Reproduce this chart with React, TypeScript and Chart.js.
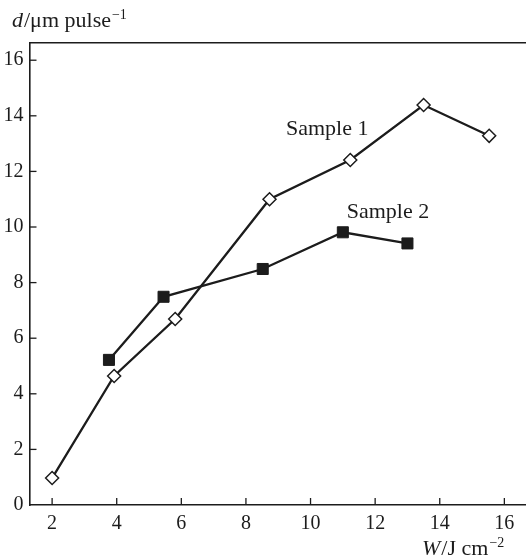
import React, { useEffect, useRef } from 'react';
import { Chart, registerables } from 'chart.js';
Chart.register(...registerables);

// Data
const sample1X = [2, 3.92, 5.81, 8.73, 11.23, 13.5, 15.53];
const sample1Y = [0.97, 4.64, 6.69, 11.0, 12.41, 14.39, 13.28];
const sample2X = [3.76, 5.45, 8.52, 11.0, 13.0];
const sample2Y = [5.22, 7.49, 8.49, 9.81, 9.41];
const xTicks = [2, 4, 6, 8, 10, 12, 14, 16];
const yTicks = [0, 2, 4, 6, 8, 10, 12, 14, 16];
const seriesNames = ['Sample 1', 'Sample 2'];
const seriesLabelX = [9.24, 11.12];
const seriesLabelY = [13.3, 10.32];

const INK = '#1c1c1c';
const SERIF = '"Liberation Serif", "DejaVu Serif", serif';

const decorPlugin = {
  id: 'decor',
  afterDraw(chart: any) {
    const { ctx, chartArea, scales } = chart;
    const xs = scales.x;
    const ys = scales.y;
    ctx.save();
    ctx.strokeStyle = INK;
    ctx.lineWidth = 1.6;
    // top frame line
    ctx.beginPath();
    ctx.moveTo(chartArea.left, chartArea.top);
    ctx.lineTo(chart.width, chartArea.top);
    ctx.stroke();
    // inward ticks
    ctx.lineWidth = 1.3;
    xTicks.forEach((v) => {
      const px = xs.getPixelForValue(v);
      ctx.beginPath();
      ctx.moveTo(px, chartArea.bottom);
      ctx.lineTo(px, chartArea.bottom - 7);
      ctx.stroke();
    });
    yTicks.forEach((v) => {
      if (v === 0) return;
      const py = ys.getPixelForValue(v);
      ctx.beginPath();
      ctx.moveTo(chartArea.left, py);
      ctx.lineTo(chartArea.left + 7, py);
      ctx.stroke();
    });
    // series labels
    ctx.fillStyle = INK;
    ctx.font = `22px ${SERIF}`;
    ctx.textBaseline = 'alphabetic';
    ctx.textAlign = 'left';
    seriesNames.forEach((name, i) => {
      ctx.fillText(name, xs.getPixelForValue(seriesLabelX[i]), ys.getPixelForValue(seriesLabelY[i]));
    });
    // axis titles
    const drawTitle = (x: number, y: number, it: string, rest: string, sup: string) => {
      ctx.font = `italic 22px ${SERIF}`;
      ctx.fillText(it, x, y);
      let cx = x + ctx.measureText(it).width + 1;
      ctx.font = `22px ${SERIF}`;
      ctx.fillText(rest, cx, y);
      cx += ctx.measureText(rest).width + 1;
      ctx.font = `14px ${SERIF}`;
      ctx.fillText(sup, cx, y - 8);
    };
    drawTitle(12, 27, 'd', '/\u03bcm pulse', '\u22121');
    drawTitle(422, 555, 'W', '/J cm', '\u22122');
    ctx.restore();
  },
};

export default function App() {
  const ref = useRef<HTMLCanvasElement | null>(null);
  useEffect(() => {
    if (!ref.current) return;
    const chart = new Chart(ref.current, {
      type: 'line',
      data: {
        datasets: [
          {
            label: seriesNames[1],
            data: sample2X.map((x, i) => ({ x, y: sample2Y[i] })),
            borderColor: INK,
            borderWidth: 2.3,
            pointStyle: 'rect',
            pointRadius: 7.8,
            pointBackgroundColor: INK,
            pointBorderColor: INK,
            pointBorderWidth: 1,
            tension: 0,
          },
          {
            label: seriesNames[0],
            data: sample1X.map((x, i) => ({ x, y: sample1Y[i] })),
            borderColor: INK,
            borderWidth: 2.3,
            pointStyle: 'rectRot',
            pointRadius: 6.5,
            pointBackgroundColor: '#ffffff',
            pointBorderColor: INK,
            pointBorderWidth: 1.5,
            tension: 0,
          },
        ],
      },
      options: {
        animation: false,
        responsive: false,
        devicePixelRatio: 1,
        layout: { autoPadding: false, padding: { top: 42.7, left: 0, right: 0, bottom: 0 } },
        plugins: { legend: { display: false }, tooltip: { enabled: false } },
        scales: {
          x: {
            type: 'linear',
            min: 1.3,
            max: 16.67,
            afterBuildTicks: (s: any) => {
              s.ticks = xTicks.map((v) => ({ value: v }));
            },
            afterFit: (s: any) => {
              s.height = 54;
              s.paddingLeft = 0;
              s.paddingRight = 0;
            },
            grid: { display: false, drawTicks: false },
            border: { display: true, color: INK, width: 1.6 },
            ticks: { color: INK, font: { family: SERIF, size: 20 }, padding: 7, maxRotation: 0, autoSkip: false },
          },
          y: {
            type: 'linear',
            min: 0,
            max: 16.63,
            afterBuildTicks: (s: any) => {
              s.ticks = yTicks.map((v) => ({ value: v }));
            },
            afterFit: (s: any) => {
              s.width = 29.5;
              s.paddingTop = 0;
              s.paddingBottom = 0;
            },
            grid: { display: false, drawTicks: false },
            border: { display: true, color: INK, width: 1.6 },
            ticks: { color: INK, font: { family: SERIF, size: 20 }, padding: 6, autoSkip: false },
          },
        },
      },
      plugins: [decorPlugin],
    });
    return () => chart.destroy();
  }, []);
  return (
    <div style={{ position: 'fixed', left: 0, top: 0, width: 526, height: 559, background: '#fff' }}>
      <canvas ref={ref} width={526} height={559} />
    </div>
  );
}
